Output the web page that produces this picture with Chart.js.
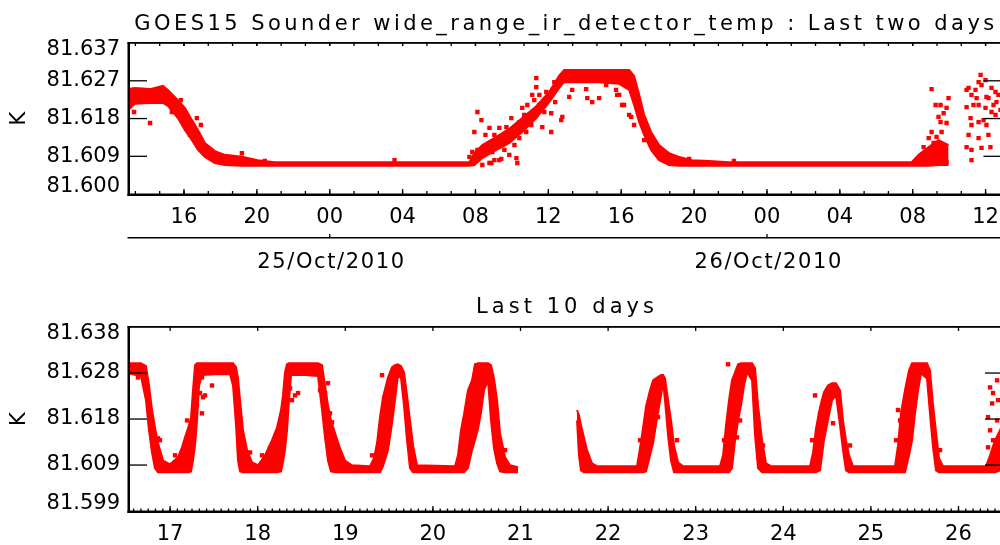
<!DOCTYPE html>
<html>
<head>
<meta charset="utf-8">
<title>GOES15 Sounder wide_range_ir_detector_temp</title>
<script src="https://cdn.jsdelivr.net/npm/chart.js@4.4.1/dist/chart.umd.min.js"></script>
<style>
  html, body { margin: 0; padding: 0; background: #fff; width: 1000px; height: 545px; overflow: hidden; }
  #wrap { position: relative; width: 1000px; height: 545px; overflow: hidden; }
  .panel { position: absolute; left: 0; width: 1010px; }
  .panel canvas { display: block; }
  #topPanel { top: 0; height: 280px; }
  #botPanel { top: 280px; height: 265px; }
</style>
</head>
<body>
<div id="wrap">
  <div class="panel" id="topPanel"><canvas id="topChart" width="1010" height="280"></canvas></div>
  <div class="panel" id="botPanel"><canvas id="botChart" width="1010" height="265"></canvas></div>
</div>
<script>
// ---------- Last two days (x = hours since 25/Oct/2010 00:00, y = K) ----------
const topHourMin = -11.07, topHourMax = 36.93;
const topValueMin = 81.600, topValueMax = 81.637;
const topHourTicks  = [-8, -4, 0, 4, 8, 12, 16, 20, 24, 28, 32, 36];
const topHourLabels = ['16', '20', '00', '04', '08', '12', '16', '20', '00', '04', '08', '12'];
const topYLabels    = ['81.600', '81.609', '81.618', '81.627', '81.637'];
const topDayTicks   = [0, 24];
const topDayLabels  = ['25/Oct/2010', '26/Oct/2010'];

// dense part of the record: upper and lower edge of the cloud of samples
const topBandHour = [-11.07, -10.69, -9.86, -9.15, -8.88, -8.33, -7.95, -7.56, -7.23, -6.85,
                     -6.30, -5.75, -4.82, -3.95, -3.02, 7.67, 7.94, 8.38, 9.15, 9.86,
                     10.57, 11.34, 12.05, 12.60, 12.87, 14.79, 15.89, 16.44, 16.71, 16.99,
                     17.26, 17.64, 18.08, 18.63, 19.18, 19.89, 20.82, 21.92, 31.95, 32.33,
                     32.88, 33.42, 33.97];
const topBandHigh = [81.6257, 81.6260, 81.6257, 81.6265, 81.6255, 81.6230, 81.6211, 81.6181, 81.6157, 81.6125,
                     81.6105, 81.6096, 81.6091, 81.6083, 81.6078, 81.6078, 81.6100, 81.6120, 81.6140, 81.6160,
                     81.6186, 81.6215, 81.6250, 81.6290, 81.6304, 81.6304, 81.6304, 81.6304, 81.6289, 81.6243,
                     81.6194, 81.6152, 81.6120, 81.6100, 81.6091, 81.6083, 81.6081, 81.6078, 81.6078, 81.6096,
                     81.6115, 81.6132, 81.6120];
const topBandLow  = [81.6206, 81.6221, 81.6223, 81.6223, 81.6216, 81.6186, 81.6157, 81.6132, 81.6108, 81.6091,
                     81.6076, 81.6071, 81.6069, 81.6069, 81.6069, 81.6069, 81.6071, 81.6088, 81.6108, 81.6125,
                     81.6152, 81.6186, 81.6225, 81.6260, 81.6274, 81.6274, 81.6270, 81.6255, 81.6218, 81.6176,
                     81.6145, 81.6108, 81.6083, 81.6071, 81.6069, 81.6069, 81.6069, 81.6069, 81.6069, 81.6069,
                     81.6069, 81.6071, 81.6071];

// scattered individual samples
const topPointHour = [-9.86, -7.29, -4.82, -10.74, -9.43, -8.66, -8.17, -7.89, -7.67, -7.07,
                      -6.96, -6.58, -6.03, -5.37, -4.39, -3.56, 3.56, 8.11, 7.94, 8.33,
                      7.83, 8.77, 8.93, 9.04, 9.31, 9.48, 9.70, 9.86, 10.03, 10.25,
                      10.30, 10.41, 10.57, 10.79, 10.96, 11.12, 11.34, 11.34, 11.51, 11.67,
                      11.89, 12.16, 12.16, 12.33, 12.71, 12.77, 13.15, 13.31, 14.08, 14.14,
                      14.41, 14.79, 15.18, 15.72, 15.78, 16.05, 16.60, 16.44, 16.55, 16.71,
                      16.16, 15.89, 8.88, 9.42, 8.22, 8.60, 9.59, 17.26, 17.81, 18.36,
                      19.73, 22.19, 33.04, 33.26, 33.97, 33.53, 33.86, 33.42, 33.70, 33.53,
                      33.86, 33.04, 33.59, 32.88, 33.31, 32.60, 33.15, 33.59, 32.77, 33.26,
                      33.81, 32.44, 33.53, 33.86, 35.07, 34.96, 35.23, 35.45, 35.62, 35.73,
                      36.00, 35.78, 35.51, 35.34, 35.18, 35.23, 35.07, 34.96, 35.23, 35.62,
                      35.62, 35.89, 36.00, 36.16, 36.33, 36.55, 36.44, 36.60, 36.55, 36.16,
                      35.78, 35.23, 36.05, 36.27, 35.62, 36.33, 34.96, 36.05, 36.71, 36.82,
                      8.11, 8.55, 8.77, 9.15, 9.31, 9.59, 9.97, 10.14, 10.41, 10.68,
                      10.85, 11.07, 11.23, 11.51, 11.78, 11.94, 12.22, 12.38, 7.67, 9.04,
                      9.75, 8.38];
const topPointValue = [81.6174, 81.6186, 81.6100, 81.6201, 81.6250, 81.6201, 81.6230, 81.6176, 81.6145, 81.6169,
                       81.6115, 81.6100, 81.6091, 81.6083, 81.6083, 81.6081, 81.6083, 81.6201, 81.6152, 81.6181,
                       81.6103, 81.6076, 81.6103, 81.6145, 81.6083, 81.6120, 81.6164, 81.6096, 81.6145, 81.6088,
                       81.6076, 81.6176, 81.6211, 81.6152, 81.6194, 81.6243, 81.6284, 81.6262, 81.6218, 81.6164,
                       81.6250, 81.6152, 81.6198, 81.6274, 81.6181, 81.6189, 81.6238, 81.6255, 81.6257, 81.6235,
                       81.6225, 81.6235, 81.6267, 81.6255, 81.6243, 81.6218, 81.6260, 81.6194, 81.6189, 81.6169,
                       81.6218, 81.6243, 81.6076, 81.6086, 81.6091, 81.6115, 81.6137, 81.6132, 81.6113, 81.6093,
                       81.6086, 81.6081, 81.6257, 81.6218, 81.6235, 81.6218, 81.6211, 81.6189, 81.6198, 81.6176,
                       81.6174, 81.6152, 81.6152, 81.6137, 81.6140, 81.6115, 81.6125, 81.6115, 81.6103, 81.6100,
                       81.6096, 81.6091, 81.6088, 81.6078, 81.6260, 81.6213, 81.6243, 81.6255, 81.6274, 81.6292,
                       81.6279, 81.6267, 81.6235, 81.6218, 81.6186, 81.6169, 81.6145, 81.6115, 81.6108, 81.6137,
                       81.6176, 81.6181, 81.6211, 81.6235, 81.6260, 81.6250, 81.6218, 81.6225, 81.6194, 81.6145,
                       81.6113, 81.6083, 81.6169, 81.6115, 81.6218, 81.6201, 81.6255, 81.6238, 81.6243, 81.6206,
                       81.6108, 81.6145, 81.6162, 81.6132, 81.6162, 81.6108, 81.6186, 81.6120, 81.6137, 81.6194,
                       81.6218, 81.6169, 81.6230, 81.6243, 81.6201, 81.6230, 81.6255, 81.6225, 81.6091, 81.6083,
                       81.6132, 81.6071];

// ---------- Last 10 days (x = day of October 2010, y = K) ----------
const botDayMin = 16.52, botDayMax = 26.52;
const botValueMin = 81.599, botValueMax = 81.638;
const botDayTicks  = [17, 18, 19, 20, 21, 22, 23, 24, 25, 26];
const botDayLabels = ['17', '18', '19', '20', '21', '22', '23', '24', '25', '26'];
const botYLabels   = ['81.599', '81.609', '81.618', '81.628', '81.638'];

const botBandDay = [16.520, 16.668, 16.725, 16.760, 16.794, 16.828, 16.862, 16.920, 17.000, 17.091,
                    17.136, 17.171, 17.205, 17.239, 17.262, 17.285, 17.308, 17.331, 17.365, 17.513,
                    17.684, 17.719, 17.753, 17.776, 17.799, 17.833, 17.879, 17.936, 18.004, 18.084,
                    18.164, 18.221, 18.267, 18.289, 18.312, 18.335, 18.358, 18.381, 18.541, 18.689,
                    18.735, 18.769, 18.803, 18.837, 18.883, 18.940, 18.997, 19.077, 19.283, 19.328,
                    19.363, 19.397, 19.431, 19.488, 19.534, 19.568, 19.602, 19.637, 19.671, 19.705,
                    19.739, 19.774, 19.819, 20.253, 20.287, 20.321, 20.356, 20.401, 20.447, 20.481,
                    20.516, 20.550, 20.584, 20.630, 20.664, 20.698, 20.733, 20.767, 20.824, 20.881,
                    20.972, 21.300, 21.646, 21.668, 21.691, 21.725, 21.760, 21.817, 21.874, 22.331,
                    22.365, 22.399, 22.434, 22.479, 22.514, 22.559, 22.605, 22.628, 22.650, 22.685,
                    22.719, 22.753, 22.799, 22.856, 23.278, 23.313, 23.347, 23.381, 23.415, 23.450,
                    23.484, 23.518, 23.552, 23.587, 23.644, 23.678, 23.712, 23.758, 23.803, 23.861,
                    24.306, 24.340, 24.374, 24.420, 24.465, 24.510, 24.557, 24.602, 24.648, 24.682,
                    24.716, 24.751, 24.796, 25.276, 25.310, 25.345, 25.390, 25.436, 25.470, 25.504,
                    25.539, 25.573, 25.641, 25.675, 25.710, 25.744, 25.778, 25.824, 26.315, 26.361,
                    26.418, 26.475, 26.520];
const botBandHigh = [81.6303, 81.6303, 81.6297, 81.6256, 81.6204, 81.6167, 81.6134, 81.6097, 81.6089, 81.6104,
                     81.6125, 81.6146, 81.6165, 81.6187, 81.6246, 81.6299, 81.6303, 81.6303, 81.6303, 81.6303,
                     81.6303, 81.6303, 81.6295, 81.6271, 81.6225, 81.6161, 81.6119, 81.6093, 81.6087, 81.6108,
                     81.6140, 81.6167, 81.6204, 81.6235, 81.6284, 81.6301, 81.6303, 81.6303, 81.6303, 81.6303,
                     81.6299, 81.6256, 81.6214, 81.6182, 81.6155, 81.6123, 81.6097, 81.6087, 81.6085, 81.6102,
                     81.6134, 81.6189, 81.6231, 81.6273, 81.6295, 81.6299, 81.6301, 81.6297, 81.6284, 81.6235,
                     81.6182, 81.6129, 81.6087, 81.6085, 81.6108, 81.6161, 81.6195, 81.6246, 81.6267, 81.6301,
                     81.6303, 81.6303, 81.6303, 81.6303, 81.6299, 81.6271, 81.6225, 81.6155, 81.6104, 81.6087,
                     81.6083, null,    81.6204, 81.6193, 81.6172, 81.6146, 81.6119, 81.6091, 81.6085, 81.6085,
                     81.6123, 81.6165, 81.6212, 81.6246, 81.6267, 81.6273, 81.6278, 81.6278, 81.6271, 81.6225,
                     81.6182, 81.6129, 81.6093, 81.6085, 81.6085, 81.6108, 81.6172, 81.6225, 81.6267, 81.6284,
                     81.6301, 81.6303, 81.6303, 81.6303, 81.6303, 81.6293, 81.6214, 81.6140, 81.6091, 81.6085,
                     81.6085, 81.6114, 81.6165, 81.6210, 81.6242, 81.6256, 81.6261, 81.6261, 81.6246, 81.6182,
                     81.6140, 81.6108, 81.6085, 81.6085, 81.6129, 81.6199, 81.6246, 81.6288, 81.6303, 81.6303,
                     81.6303, 81.6303, 81.6303, 81.6288, 81.6214, 81.6157, 81.6102, 81.6085, 81.6085, 81.6108,
                     81.6140, 81.6161, 81.6182];
const botBandLow  = [81.6282, 81.6276, 81.6225, 81.6161, 81.6114, 81.6081, 81.6072, 81.6072, 81.6072, 81.6072,
                     81.6072, 81.6072, 81.6072, 81.6074, 81.6097, 81.6129, 81.6182, 81.6256, 81.6278, 81.6280,
                     81.6280, 81.6256, 81.6172, 81.6097, 81.6074, 81.6072, 81.6072, 81.6072, 81.6072, 81.6072,
                     81.6072, 81.6072, 81.6074, 81.6093, 81.6119, 81.6161, 81.6225, 81.6278, 81.6278, 81.6276,
                     81.6204, 81.6146, 81.6097, 81.6074, 81.6072, 81.6072, 81.6072, 81.6072, 81.6072, 81.6072,
                     81.6072, 81.6072, 81.6085, 81.6119, 81.6176, 81.6225, 81.6278, 81.6271, 81.6214, 81.6140,
                     81.6081, 81.6072, 81.6072, 81.6072, 81.6072, 81.6072, 81.6072, 81.6081, 81.6119, 81.6140,
                     81.6165, 81.6199, 81.6246, 81.6267, 81.6182, 81.6123, 81.6091, 81.6074, 81.6072, 81.6072,
                     81.6072, null,    81.6182, 81.6108, 81.6076, 81.6072, 81.6072, 81.6072, 81.6072, 81.6072,
                     81.6072, 81.6072, 81.6074, 81.6108, 81.6134, 81.6187, 81.6235, 81.6263, 81.6225, 81.6150,
                     81.6097, 81.6072, 81.6072, 81.6072, 81.6072, 81.6072, 81.6072, 81.6072, 81.6081, 81.6140,
                     81.6182, 81.6214, 81.6256, 81.6284, 81.6267, 81.6150, 81.6081, 81.6072, 81.6072, 81.6072,
                     81.6072, 81.6072, 81.6072, 81.6076, 81.6140, 81.6182, 81.6225, 81.6235, 81.6172, 81.6119,
                     81.6076, 81.6072, 81.6072, 81.6072, 81.6072, 81.6072, 81.6072, 81.6108, 81.6140, 81.6197,
                     81.6246, 81.6282, 81.6271, 81.6197, 81.6125, 81.6076, 81.6072, 81.6072, 81.6072, 81.6072,
                     81.6072, 81.6076, 81.6087];

const botPointDay = [17.365, 17.479, 17.399, 17.365, 17.285, 17.194, 17.308, 17.251, 17.342, 17.376,
                     18.369, 18.461, 18.392, 18.278, 18.803, 18.769, 18.849, 18.426, 18.712, 18.826,
                     16.634, 16.862, 16.771, 19.420, 19.431, 22.559, 22.570, 23.370, 23.472, 23.507,
                     24.568, 24.420, 24.363, 25.310, 25.333, 25.413, 26.361, 26.384, 26.338, 26.361,
                     26.395, 26.441, 26.452, 26.441, 26.338, 26.395, 16.885, 17.057, 17.171, 17.913,
                     18.050, 18.141, 19.306, 20.333, 20.824, 21.714, 22.365, 22.787, 23.324, 23.769,
                     24.329, 24.762, 25.287, 25.790];
const botPointValue = [81.6273, 81.6256, 81.6235, 81.6197, 81.6199, 81.6182, 81.6214, 81.6161, 81.6240, 81.6231,
                       81.6250, 81.6240, 81.6225, 81.6182, 81.6261, 81.6240, 81.6178, 81.6235, 81.6246, 81.6197,
                       81.6273, 81.6144, 81.6178, 81.6278, 81.6140, 81.6204, 81.6189, 81.6301, 81.6146, 81.6182,
                       81.6176, 81.6197, 81.6235, 81.6204, 81.6182, 81.6246, 81.6252, 81.6218, 81.6189, 81.6161,
                       81.6240, 81.6267, 81.6225, 81.6182, 81.6125, 81.6140, 81.6140, 81.6108, 81.6128, 81.6114,
                       81.6108, 81.6123, 81.6108, 81.6129, 81.6119, 81.6129, 81.6140, 81.6140, 81.6140, 81.6129,
                       81.6140, 81.6129, 81.6140, 81.6119];

// ---------- drawing ----------
const RED = '#ff0000';
const FONT = '"DejaVu Sans", "Liberation Sans", sans-serif';
const FONT_SIZE = 21;

function bandDatasets(xs, hi, lo) {
  const pts = arr => xs.map((x, i) => ({ x: x, y: arr[i] }));
  return [
    { data: pts(hi), borderColor: RED, backgroundColor: RED, borderWidth: 2,
      pointRadius: 0, fill: '+1', spanGaps: false, tension: 0 },
    { data: pts(lo), borderColor: RED, backgroundColor: RED, borderWidth: 2,
      pointRadius: 0, fill: false, spanGaps: false, tension: 0 }
  ];
}

function pointDataset(xs, ys) {
  return { data: xs.map((x, i) => ({ x: x, y: ys[i] })), showLine: false,
           pointStyle: 'rect', pointRadius: 3.1, pointBorderWidth: 0,
           pointBackgroundColor: RED, borderColor: RED, borderWidth: 0 };
}

// letter-spaced text, centred on cx and stretched to the given width
function spacedText(ctx, text, cx, baseline, width) {
  const chars = Array.from(text);
  const ws = chars.map(c => ctx.measureText(c).width);
  const natural = ws.reduce((a, b) => a + b, 0);
  const gap = chars.length > 1 ? (width - natural) / (chars.length - 1) : 0;
  let x = cx - width / 2;
  ctx.textAlign = 'left';
  ctx.textBaseline = 'alphabetic';
  chars.forEach((c, i) => { ctx.fillText(c, x, baseline); x += ws[i] + gap; });
}

// axis box, inward tick marks, value labels, titles and the date axis
const framePlugin = {
  id: 'frame',
  afterDraw(chart, args, o) {
    const ctx = chart.ctx;
    const { left, top, right, bottom } = chart.chartArea;
    const xs = chart.scales.x, ys = chart.scales.y;
    ctx.save();
    ctx.fillStyle = '#000';

    // box
    ctx.fillRect(left - 0.5, top - 1, 2.5, bottom - top + 3);
    ctx.fillRect(left - 0.5, bottom - 0.5, right - left + 1.5, 2.5);
    ctx.fillRect(left - 0.5, top - 1, right - left + 1.5, o.topLine);
    ctx.fillRect(right - 0.5, top - 1, 1.5, bottom - top + 2);

    // x tick marks (major + minor), pointing into the plot
    const xTick = (v, lenB, lenT) => {
      const x = xs.getPixelForValue(v);
      if (x < left + 2 || x > right - 1) return;
      ctx.fillRect(x - 0.6, bottom - lenB, 1.3, lenB);
      if (lenT > 0) ctx.fillRect(x - 0.6, top, 1.3, lenT);
    };
    const first = o.xMajor[0];
    for (let v = first; v >= xs.min; v -= o.minorStep) xTick(v, o.minorLen, o.topMinorLen);
    for (let v = first; v <= xs.max; v += o.minorStep) xTick(v, o.minorLen, o.topMinorLen);
    o.xMajor.forEach(v => xTick(v, o.majorLen, o.topMajorLen));

    // y ticks and labels
    ctx.font = FONT_SIZE + 'px ' + FONT;
    const n = o.yLabels.length;
    for (let i = 0; i < n; i++) {
      const v = ys.min + i * (ys.max - ys.min) / (n - 1);
      const y = ys.getPixelForValue(v);
      if (i > 0 && i < n - 1) {
        ctx.fillRect(left, y - 0.6, 19, 1.3);
        ctx.fillRect(right - 19, y - 0.6, 19, 1.3);
      }
      const ly = Math.min(Math.max(y, top + 7), bottom - 7);
      ctx.textAlign = 'right';
      ctx.textBaseline = 'middle';
      ctx.fillText(o.yLabels[i], left - 8, ly);
    }

    // y axis title
    ctx.save();
    ctx.translate(20, (top + bottom) / 2);
    ctx.rotate(-Math.PI / 2);
    ctx.textAlign = 'center';
    ctx.textBaseline = 'middle';
    ctx.fillText(o.yTitle, 0, 0);
    ctx.restore();

    // panel title
    spacedText(ctx, o.title, (left + right) / 2 - 1, o.titleBaseline, o.titleWidth);

    // date axis under the hour labels
    if (o.dateTicks) {
      ctx.fillRect(left - 0.5, o.dateLineY, right - left + 1.5, 1.5);
      o.dateTicks.forEach((v, i) => {
        const x = xs.getPixelForValue(v);
        ctx.fillRect(x - 0.6, o.dateLineY - 3, 1.3, 3);
        spacedText(ctx, o.dateLabels[i], x + 1, o.dateBaseline, o.dateWidth);
      });
    }
    ctx.restore();
  }
};

function xScale(min, max, tickValues, tickLabels, height) {
  return {
    type: 'linear', min: min, max: max,
    grid: { display: false, drawTicks: false },
    border: { display: false },
    afterBuildTicks: s => { s.ticks = tickValues.map(v => ({ value: v })); },
    afterFit: s => { s.height = height; },
    ticks: {
      autoSkip: false, maxRotation: 0, minRotation: 0, padding: 11, color: '#000',
      font: { family: FONT, size: FONT_SIZE },
      callback: (v, i) => tickLabels[i]
    }
  };
}

Chart.defaults.font.family = FONT;

new Chart(document.getElementById('topChart'), {
  type: 'line',
  data: {
    datasets: [
      ...bandDatasets(topBandHour, topBandHigh, topBandLow),
      pointDataset(topPointHour, topPointValue)
    ]
  },
  options: {
    responsive: false, animation: false, events: [],
    layout: { padding: { left: 128, right: 6, top: 43, bottom: 0 } },
    plugins: {
      legend: { display: false }, tooltip: { enabled: false },
      frame: {
        xMajor: topHourTicks, minorStep: 4 / 3, majorLen: 5, minorLen: 3,
        topMajorLen: 3, topMinorLen: 3, topLine: 1.8,
        yLabels: topYLabels, yTitle: 'K',
        title: 'GOES15 Sounder wide_range_ir_detector_temp : Last two days',
        titleBaseline: 30, titleWidth: 860,
        dateTicks: topDayTicks, dateLabels: topDayLabels,
        dateLineY: 237, dateBaseline: 268, dateWidth: 147
      }
    },
    scales: {
      x: xScale(topHourMin, topHourMax, topHourTicks, topHourLabels, 86),
      y: { display: false, min: topValueMin, max: topValueMax }
    }
  },
  plugins: [framePlugin]
});

new Chart(document.getElementById('botChart'), {
  type: 'line',
  data: {
    datasets: [
      ...bandDatasets(botBandDay, botBandHigh, botBandLow),
      pointDataset(botPointDay, botPointValue)
    ]
  },
  options: {
    responsive: false, animation: false, events: [],
    layout: { padding: { left: 128, right: 6, top: 47, bottom: 0 } },
    plugins: {
      legend: { display: false }, tooltip: { enabled: false },
      frame: {
        xMajor: botDayTicks, minorStep: 1 / 12, majorLen: 5, minorLen: 2.5,
        topMajorLen: 4, topMinorLen: 0, topLine: 1.8,
        yLabels: botYLabels, yTitle: 'K',
        title: 'Last 10 days', titleBaseline: 33, titleWidth: 178
      }
    },
    scales: {
      x: xScale(botDayMin, botDayMax, botDayTicks, botDayLabels, 34),
      y: { display: false, min: botValueMin, max: botValueMax }
    }
  },
  plugins: [framePlugin]
});
</script>
</body>
</html>
